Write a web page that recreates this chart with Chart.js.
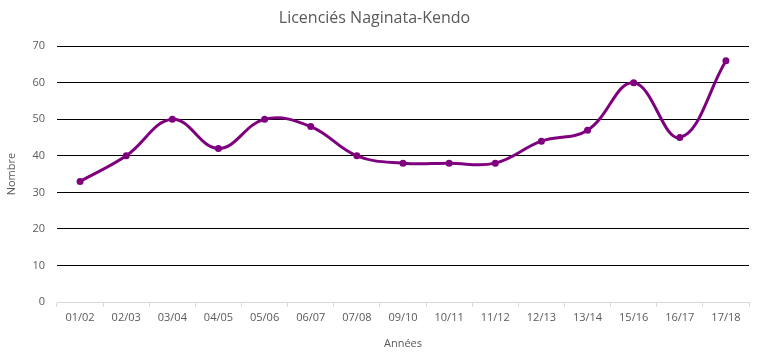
<!DOCTYPE html>
<html>
<head>
<meta charset="utf-8">
<script src="https://cdn.jsdelivr.net/npm/chart.js@4"></script>
<style>
    html, body { margin: 0; padding: 0; background: #fff; }
    #wrap { width: 759px; height: 359px; }
</style>
</head>
<body>
<div id="wrap"><canvas id="chart"></canvas></div>
<script>
const SEASONS = ['01/02', '02/03', '03/04', '04/05', '05/06', '06/07', '07/08', '09/10', '10/11', '11/12', '12/13', '13/14', '15/16', '16/17', '17/18'];
const LICENCIES = [33, 40, 50, 42, 50, 48, 40, 38, 38, 38, 44, 47, 60, 45, 66];
const Y_TICKS = [0, 10, 20, 30, 40, 50, 60, 70];

const FONT = '"Open Sans", "Liberation Sans", sans-serif';
const TEXT = '#595959';
const AXIS = '#d9d9d9';
const PURPLE = '#7f007f';

new Chart(document.getElementById('chart'), {
    type: 'line',
    data: {
        labels: SEASONS,
        datasets: [{
            label: 'Licenciés',
            data: LICENCIES,
            borderColor: PURPLE,
            backgroundColor: PURPLE,
            borderWidth: 3,
            pointRadius: 3.5,
            pointBackgroundColor: PURPLE,
            pointBorderWidth: 0,
            tension: 0.4,
            fill: false
        }]
    },
    options: {
        responsive: true,
        maintainAspectRatio: false,
        animation: false,
        layout: { padding: { right: 10, left: 0, bottom: 0 } },
        plugins: {
            legend: { display: false },
            tooltip: { enabled: false },
            title: {
                display: true,
                text: 'Licenciés Naginata-Kendo',
                color: TEXT,
                font: { family: FONT, size: 16, weight: 'normal' },
                padding: { top: 9, bottom: 18 }
            }
        },
        scales: {
            x: {
                offset: true,
                grid: {
                    offset: true,
                    drawOnChartArea: false,
                    color: AXIS,
                    tickLength: 5
                },
                border: { color: AXIS, width: 1 },
                ticks: { color: TEXT, font: { family: FONT, size: 11 }, padding: 4, maxRotation: 0, autoSkip: false },
                title: {
                    display: true,
                    text: 'Années',
                    color: TEXT,
                    font: { family: FONT, size: 11 },
                    padding: { top: 4, bottom: 9 }
                },
                afterFit: s => { s.height = 57; }
            },
            y: {
                min: 0,
                max: 70,
                afterBuildTicks: s => { s.ticks = Y_TICKS.map(v => ({ value: v })); },
                grid: {
                    drawTicks: false,
                    color: ctx => ctx.tick && ctx.tick.value === 0 ? 'rgba(0,0,0,0)' : '#000',
                    lineWidth: 1
                },
                border: { display: false },
                ticks: { color: TEXT, font: { family: FONT, size: 11 }, padding: 12 },
                title: {
                    display: true,
                    text: 'Nombre',
                    color: TEXT,
                    font: { family: FONT, size: 11 },
                    padding: { top: 5, bottom: 5 }
                },
                afterFit: s => { s.width = 57; }
            }
        }
    }
});
</script>
</body>
</html>
